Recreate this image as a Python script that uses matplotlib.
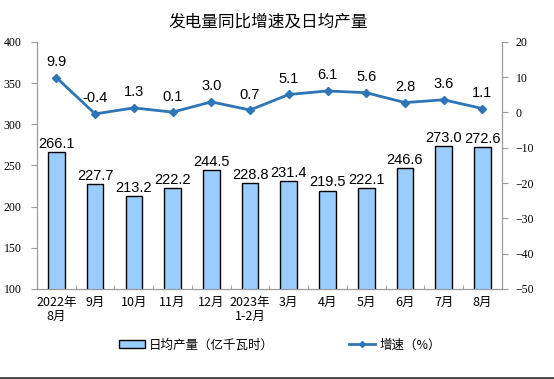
import matplotlib
matplotlib.use('Agg')
import matplotlib.pyplot as plt
import numpy as np
from matplotlib.lines import Line2D
from matplotlib.patches import Patch

plt.rcParams['font.family'] = ['Noto Sans CJK SC', 'DejaVu Sans']

# data
months = ['2022年\n8月', '9月', '10月', '11月', '12月', '2023年\n1-2月',
          '3月', '4月', '5月', '6月', '7月', '8月']
daily_output = [266.1, 227.7, 213.2, 222.2, 244.5, 228.8, 231.4, 219.5, 222.1, 246.6, 273.0, 272.6]
growth = [9.9, -0.4, 1.3, 0.1, 3.0, 0.7, 5.1, 6.1, 5.6, 2.8, 3.6, 1.1]

fig = plt.figure(figsize=(5.54, 3.79), dpi=100)
ax = fig.add_axes([0.0668, 0.2375, 0.839, 0.652])
ax2 = ax.twinx()

x = np.arange(len(months))
ax.bar(x, daily_output, width=0.43, color='#99CCFF', edgecolor='black', linewidth=1.0, zorder=2)
for xi, v in zip(x, daily_output):
    ax.text(xi, v + 1.5, f'{v:.1f}', ha='center', va='bottom', fontsize=10.5,
            family=['Liberation Sans'])

line_color = '#2E75B6'
ax2.plot(x, growth, color=line_color, linewidth=2, marker='D', markersize=4, zorder=3)
for xi, v in zip(x, growth):
    ax2.text(xi, v + 2.4, f'{v:.1f}', ha='center', va='bottom', fontsize=10.5,
             family=['Liberation Sans'])

ax.set_ylim(100, 400)
ax.set_yticks(range(100, 401, 50))
ax2.set_ylim(-50, 20)
ax2.set_yticks(range(-50, 21, 10))
ax.set_xlim(-0.5, len(months) - 0.5)
ax.set_xticks(x)
ax.set_xticklabels(months, fontsize=9, linespacing=1.15)
ax.set_xticks(np.arange(-0.5, len(months)), minor=True)
ax.tick_params(axis='x', which='major', length=0, pad=5)
ax.tick_params(axis='x', which='minor', length=3, direction='in', color='#999999')

for a in (ax, ax2):
    a.spines['top'].set_visible(False)
    for side in ('left', 'right', 'bottom'):
        a.spines[side].set_color('#999999')
ax.tick_params(axis='y', direction='out', length=4, color='#999999', labelsize=8.5, pad=7)
ax2.tick_params(axis='y', direction='out', length=4, color='#999999', labelsize=8.5, pad=6)
for lab in ax.get_yticklabels() + ax2.get_yticklabels():
    lab.set_family(['Liberation Serif'])

fig.suptitle('发电量同比增速及日均产量', x=0.484, y=0.965, fontsize=12)

handles = [Patch(facecolor='#99CCFF', edgecolor='black', label='日均产量（亿千瓦时）'),
           Line2D([0], [0], color=line_color, linewidth=2, marker='D', markersize=3, label='增速（%）')]
fig.legend(handles=handles, loc='center', bbox_to_anchor=(0.505, 0.09), ncol=2, frameon=False,
           fontsize=9, columnspacing=6.0, handlelength=2.1, handletextpad=0.3, handleheight=0.5)

fig.add_artist(Line2D([0, 1], [0.003, 0.003], color='#444444', linewidth=2, transform=fig.transFigure))

fig.savefig('out.png', dpi=100)
